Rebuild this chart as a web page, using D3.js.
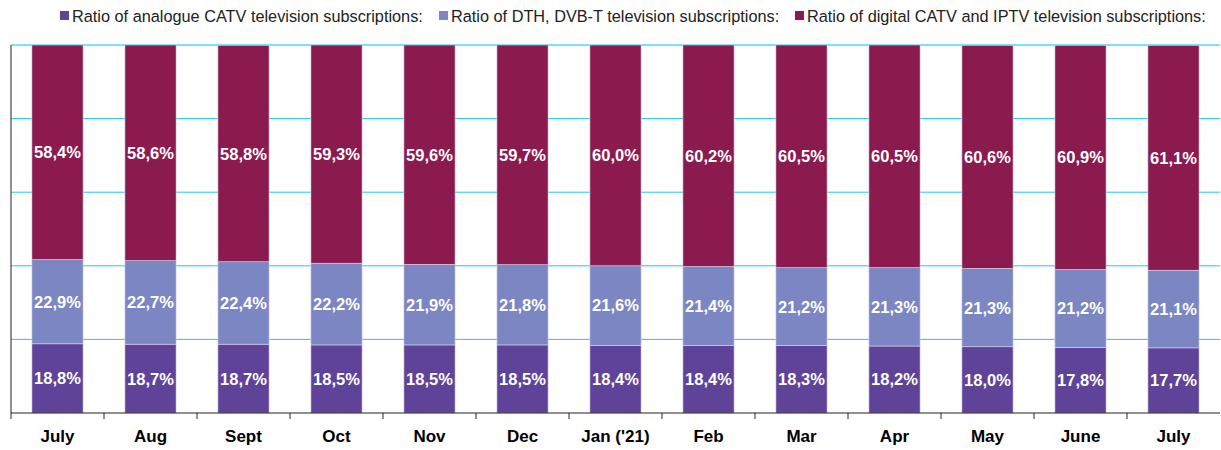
<!DOCTYPE html>
<html lang="en">
<head>
  <meta charset="UTF-8" />
  <title>TV subscriptions ratio</title>
  <script src="https://d3js.org/d3.v7.min.js"></script>
  <style>
    body { margin: 0; background: #fff; font-family: "Liberation Sans", Arial, sans-serif; }
  </style>
</head>
<body>
  <svg id="chart" width="1221" height="450"></svg>

  <script>
    // Data
    const months = ["July", "Aug", "Sept", "Oct", "Nov", "Dec", "Jan ('21)", "Feb", "Mar", "Apr", "May", "June", "July"];
    const analogue = [18.8, 18.7, 18.7, 18.5, 18.5, 18.5, 18.4, 18.4, 18.3, 18.2, 18.0, 17.8, 17.7];
    const dth = [22.9, 22.7, 22.4, 22.2, 21.9, 21.8, 21.6, 21.4, 21.2, 21.3, 21.3, 21.2, 21.1];
    const digital = [58.4, 58.6, 58.8, 59.3, 59.6, 59.7, 60.0, 60.2, 60.5, 60.5, 60.6, 60.9, 61.1];
    const seriesNames = [
      "Ratio of analogue CATV television subscriptions:",
      "Ratio of DTH, DVB-T television subscriptions:",
      "Ratio of digital CATV and IPTV television subscriptions:"
    ];
    const yTicks = [0, 20, 40, 60, 80, 100];

    const colors = ["#5f4399", "#7b86c2", "#8b1a4f"];
    const keys = ["analogue", "dth", "digital"];

    const table = months.map((m, i) => ({
      key: i, month: m, analogue: analogue[i], dth: dth[i], digital: digital[i]
    }));

    const svg = d3.select("#chart");
    const margin = { top: 45, right: 1, bottom: 37, left: 11 };
    const width = +svg.attr("width");
    const height = +svg.attr("height");

    const x = d3.scaleBand()
      .domain(table.map(d => d.key))
      .range([margin.left, width - margin.right])
      .paddingInner(0.45)
      .paddingOuter(0.225);

    const y = d3.scaleLinear()
      .domain([0, 100])
      .range([height - margin.bottom, margin.top]);

    // gridlines
    svg.append("g")
      .selectAll("line")
      .data(yTicks.slice(1))
      .join("line")
      .attr("x1", margin.left)
      .attr("x2", width - margin.right)
      .attr("y1", d => y(d))
      .attr("y2", d => y(d))
      .attr("stroke", d => d === 100 ? "#7fdff5" : "#1ec8f0")
      .attr("stroke-width", d => d === 100 ? 2 : 1);

    // stacked bars
    const stacked = d3.stack().keys(keys)(table);

    const layer = svg.append("g")
      .selectAll("g")
      .data(stacked)
      .join("g")
      .attr("fill", (d, i) => colors[i]);

    layer.selectAll("rect")
      .data(d => d)
      .join("rect")
      .attr("x", d => x(d.data.key))
      .attr("width", x.bandwidth())
      .attr("y", d => y(Math.min(d[1], 100)))
      .attr("height", d => y(d[0]) - y(Math.min(d[1], 100)))
      .attr("stroke", "#d8d4e8")
      .attr("stroke-width", 0.6);

    layer.selectAll("text")
      .data(d => d)
      .join("text")
      .attr("x", d => x(d.data.key) + x.bandwidth() / 2)
      .attr("y", d => (y(d[0]) + y(Math.min(d[1], 100))) / 2)
      .attr("dy", "0.36em")
      .attr("text-anchor", "middle")
      .attr("fill", "#fff")
      .attr("font-size", "16.5px")
      .attr("font-weight", "bold")
      .text(d => (d[1] - d[0]).toFixed(1).replace(".", ",") + "%");

    // x axis with ticks at band boundaries
    const step = x.step();
    const xAxis = svg.append("g")
      .attr("transform", `translate(0, ${y(0)})`);
    xAxis.append("line")
      .attr("x1", margin.left).attr("x2", width - margin.right)
      .attr("stroke", "#222");
    xAxis.selectAll("line.tick")
      .data(d3.range(months.length))
      .join("line")
      .attr("class", "tick")
      .attr("x1", i => x(i) - step * 0.45 / 2)
      .attr("x2", i => x(i) - step * 0.45 / 2)
      .attr("y1", 0).attr("y2", 6)
      .attr("stroke", "#222");
    xAxis.selectAll("text")
      .data(table)
      .join("text")
      .attr("x", d => x(d.key) + x.bandwidth() / 2)
      .attr("y", 29)
      .attr("text-anchor", "middle")
      .attr("font-size", "17px")
      .attr("font-weight", "bold")
      .attr("fill", "#000")
      .text(d => d.month);

    // y axis line
    svg.append("line")
      .attr("x1", margin.left).attr("x2", margin.left)
      .attr("y1", y(100)).attr("y2", y(0))
      .attr("stroke", "#222");

    // legend
    const legendX = [60, 439, 795];
    const legend = svg.append("g")
      .selectAll("g")
      .data(seriesNames)
      .join("g")
      .attr("transform", (d, i) => `translate(${legendX[i]}, 16)`);
    legend.append("rect")
      .attr("x", 0).attr("y", -5)
      .attr("width", 9).attr("height", 9)
      .attr("fill", (d, i) => colors[i]);
    legend.append("text")
      .attr("x", 12)
      .attr("dy", "0.35em")
      .attr("font-size", "16.3px")
      .attr("fill", "#222")
      .text(d => d);
  </script>
</body>
</html>
